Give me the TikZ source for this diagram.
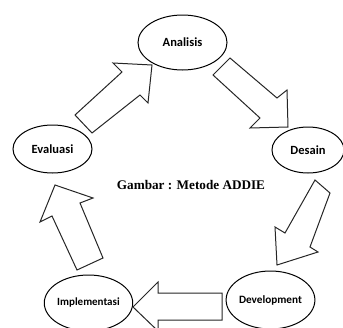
\documentclass[tikz,border=0pt]{standalone}
\usepackage{fontspec}
\setmainfont{Liberation Serif}
\newfontfamily\labelfont[BoldFont={Carlito Bold}]{Carlito}
\usetikzlibrary{shapes.geometric}
\tikzset{
  stage/.style={ellipse, draw=black, line width=1pt, inner sep=0pt, font=\labelfont\bfseries\fontsize{12.5}{14}\selectfont},
  blockarrow/.style={draw=black!85, line width=1pt, line join=miter, fill=white},
  caption/.style={font=\bfseries\fontsize{13.2}{15}\selectfont}
}
\begin{document}
\begin{tikzpicture}[x=1pt,y=-1pt]
\useasboundingbox (0,0) rectangle (343,327);
\clip (0,0) rectangle (343,327);
\node[stage, minimum width=89pt, minimum height=55pt] (an) at (182.5,42.5) {Analisis};
\node[stage, minimum width=72pt, minimum height=46pt] (de) at (308,150) {Desain};
\node[stage, minimum width=87pt, minimum height=58pt, font=\labelfont\bfseries\fontsize{11.2}{13}\selectfont] (dv) at (270.5,300) {Development};
\node[stage, minimum width=83pt, minimum height=56pt, font=\labelfont\bfseries\fontsize{11}{13}\selectfont] (im) at (88.5,303) {Implementasi};
\node[stage, minimum width=79pt, minimum height=48pt] (ev) at (52.5,149) {Evaluasi};
\node[caption] (cap) at (191,185) {Gambar : Metode ADDIE};
% block arrows
\draw[blockarrow] (75,115) -- (122,72) -- (113,63) -- (152,65) -- (148,103) -- (140,95) -- (92,133) -- cycle;
\draw[blockarrow] (230,58) -- (213,75) -- (260,118) -- (250,128) -- (288,127) -- (287,90) -- (277,98) -- cycle;
\draw[blockarrow] (330,193) -- (315,180) -- (285,233) -- (275,227) -- (277,265) -- (318,252) -- (310,247) -- cycle;
\draw[blockarrow] (222,293) -- (158,293) -- (158,282) -- (133,307) -- (158,331) -- (158,320) -- (222,320) -- cycle;
\draw[blockarrow] (77,270) -- (52,216) -- (40,222) -- (55,185) -- (93,198) -- (80,203) -- (103,258) -- cycle;
\end{tikzpicture}
\end{document}
